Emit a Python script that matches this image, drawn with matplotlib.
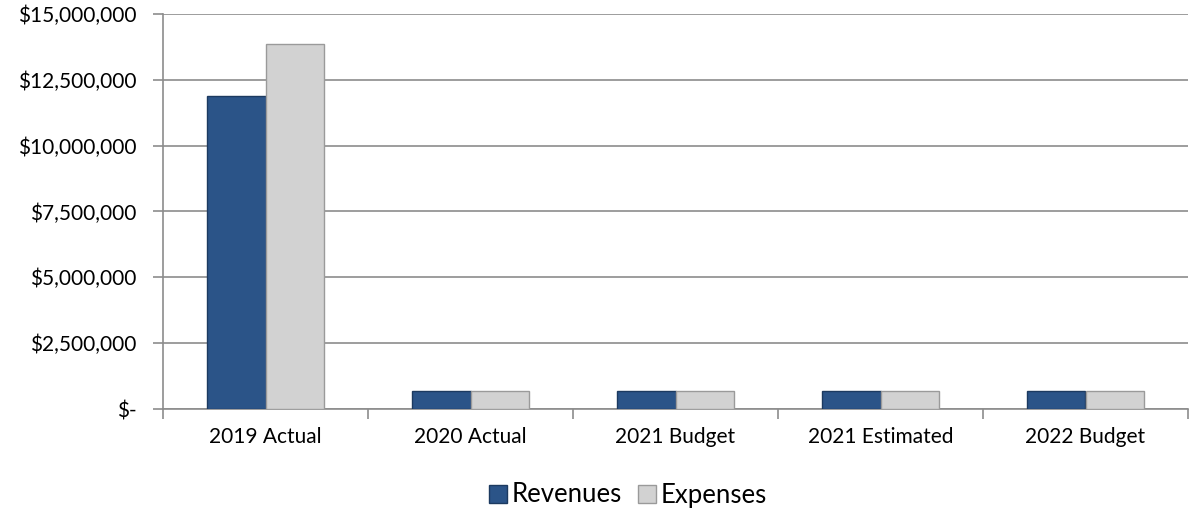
import matplotlib
matplotlib.use("Agg")
import matplotlib.pyplot as plt
import numpy as np
from matplotlib.ticker import FuncFormatter

categories = ["2019 Actual", "2020 Actual", "2021 Budget", "2021 Estimated", "2022 Budget"]
revenues = [11900000, 700000, 700000, 700000, 700000]
expenses = [13850000, 700000, 700000, 700000, 700000]
yticks = [0, 2500000, 5000000, 7500000, 10000000, 12500000, 15000000]

plt.rcParams['font.family'] = ['Lato', 'DejaVu Sans']

fig = plt.figure(figsize=(11.9, 5.16), dpi=100)
ax = fig.add_axes([163/1190, 1-409/516, (1188-163)/1190, (409-14)/516])

x = np.arange(len(categories))
w = 0.285
blue = "#2b5488"
gray = "#d2d2d2"
ax.bar(x - w/2, revenues, w, color=blue, edgecolor="#1c3a60", linewidth=1.0, label="Revenues", zorder=3)
ax.bar(x + w/2, expenses, w, color=gray, edgecolor="#9a9a9a", linewidth=1.0, label="Expenses", zorder=3)

ax.set_xlim(-0.5, len(categories) - 0.5)
ax.set_ylim(0, 15000000)
ax.set_yticks(yticks)
ax.yaxis.set_major_formatter(FuncFormatter(lambda v, p: "$-" if v == 0 else f"${v:,.0f}"))
ax.yaxis.grid(True, color="#8c8c8c", linewidth=1.2, zorder=0)
ax.set_axisbelow(True)

for s in ["top", "right"]:
    ax.spines[s].set_visible(False)
for s in ["left", "bottom"]:
    ax.spines[s].set_color("#8c8c8c")
    ax.spines[s].set_linewidth(1.2)

ax.set_xticks(x)
ax.set_xticklabels(categories)
ax.set_xticks(np.arange(-0.5, len(categories)), minor=True)
ax.tick_params(axis="x", which="major", length=0, pad=13, labelsize=15, colors="#000000")
ax.tick_params(axis="x", which="minor", length=7, color="#8c8c8c", width=1.2)
ax.tick_params(axis="y", length=7, color="#8c8c8c", width=1.2, pad=12, labelsize=15)

fig.legend(loc="center", bbox_to_anchor=(628/1190, 1-495/516), ncol=2, frameon=False,
           fontsize=18.5, handlelength=0.7, handleheight=0.7, handletextpad=0.2, columnspacing=0.6)

fig.savefig("out.png", dpi=100)
